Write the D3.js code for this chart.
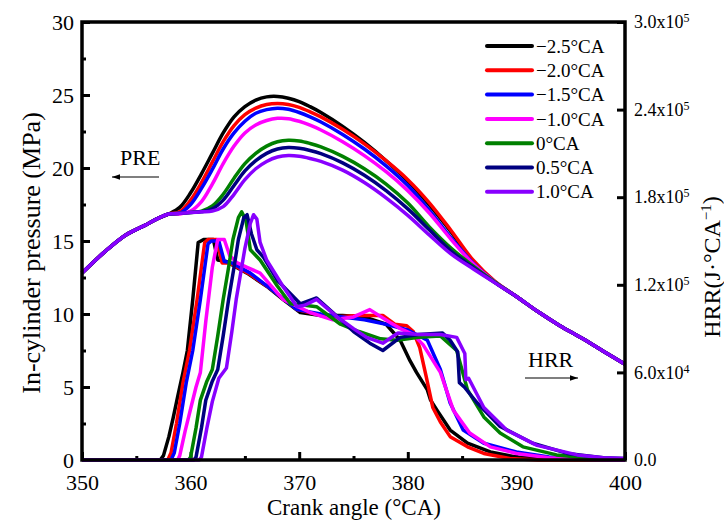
<!DOCTYPE html>
<html>
<head>
<meta charset="utf-8">
<script src="https://cdn.jsdelivr.net/npm/d3@7"></script>
<style>
  body { margin: 0; background: #fff; }
  text { font-family: "Liberation Serif", "Times New Roman", serif; fill: #000; }
</style>
</head>
<body>
<svg id="chart"></svg>
<script>
// ---- data ----
const seriesNames = ['\u22122.5\u00b0CA', '\u22122.0\u00b0CA', '\u22121.5\u00b0CA', '\u22121.0\u00b0CA', '0\u00b0CA', '0.5\u00b0CA', '1.0\u00b0CA'];
const seriesColors = ['#000000', '#ff0000', '#0000ff', '#ff00ff', '#008000', '#000080', '#8800ff'];

// crank angle grid for the pressure curves (°CA)
const angles = [350, 352, 354, 356, 357, 358, 359, 360, 361, 362, 363, 364, 365, 366, 367, 368, 369, 370,
  371, 372, 374, 376, 378, 380, 382, 384, 386, 388, 390, 392, 394, 396, 398, 400];

// in-cylinder pressure (MPa)
const preM25 = [12.8, 14.2, 15.4, 16.15, 16.55, 16.85, 17.3, 18.3, 19.6, 21.0, 22.4, 23.5, 24.2, 24.65, 24.87, 24.9, 24.78, 24.55,
  24.2, 23.8, 22.85, 21.75, 20.5, 19.1, 17.45, 15.6, 13.6, 12.2, 11.2, 10.15, 9.2, 8.35, 7.45, 6.55];
const preM20 = [12.8, 14.2, 15.4, 16.15, 16.55, 16.85, 17.0, 17.8, 19.0, 20.4, 21.8, 22.9, 23.65, 24.1, 24.35, 24.42, 24.35, 24.15,
  23.85, 23.5, 22.65, 21.65, 20.5, 19.2, 17.6, 15.7, 13.7, 12.25, 11.2, 10.15, 9.2, 8.35, 7.45, 6.55];
const preM15 = [12.8, 14.2, 15.4, 16.15, 16.55, 16.85, 16.9, 17.5, 18.6, 19.9, 21.3, 22.4, 23.2, 23.75, 24.0, 24.1, 24.02, 23.8,
  23.5, 23.15, 22.3, 21.3, 20.15, 18.8, 17.1, 15.2, 13.5, 12.2, 11.2, 10.15, 9.2, 8.35, 7.45, 6.55];
const preM10 = [12.8, 14.2, 15.4, 16.15, 16.55, 16.85, 16.85, 17.05, 17.7, 18.9, 20.3, 21.5, 22.4, 22.95, 23.25, 23.4, 23.38, 23.2,
  22.93, 22.6, 21.8, 20.85, 19.75, 18.45, 16.9, 15.1, 13.45, 12.2, 11.2, 10.15, 9.2, 8.35, 7.45, 6.55];
const pre00 = [12.8, 14.2, 15.4, 16.15, 16.55, 16.85, 16.9, 16.95, 17.05, 17.4, 18.2, 19.3, 20.3, 21.0, 21.5, 21.8, 21.9, 21.85,
  21.68, 21.45, 20.8, 19.95, 18.9, 17.6, 15.95, 14.5, 13.3, 12.2, 11.2, 10.15, 9.2, 8.35, 7.45, 6.55];
const preP05 = [12.8, 14.2, 15.4, 16.15, 16.55, 16.85, 16.9, 16.95, 17.0, 17.2, 17.8, 18.8, 19.8, 20.5, 21.0, 21.3, 21.4, 21.35,
  21.2, 20.98, 20.35, 19.5, 18.45, 17.2, 15.75, 14.3, 13.2, 12.15, 11.2, 10.15, 9.2, 8.35, 7.45, 6.55];
const preP10 = [12.8, 14.2, 15.4, 16.15, 16.55, 16.85, 16.9, 16.95, 17.0, 17.05, 17.35, 18.2, 19.2, 19.95, 20.45, 20.75, 20.85, 20.8,
  20.65, 20.45, 19.85, 19.0, 17.95, 16.75, 15.4, 14.1, 13.1, 12.15, 11.2, 10.15, 9.2, 8.35, 7.45, 6.55];

// heat release rate, [crank angle, J/°CA]
const hrrM25 = [[350, 0], [357.2, 0], [357.5, 0.3e4], [358.0, 1.6e4], [358.4, 2.9e4], [358.8, 4.3e4], [359.3, 6.0e4], [359.7, 7.5e4],
  [360.2, 11.0e4], [360.7, 14.9e4], [361.2, 15.1e4], [362.1, 15.1e4], [362.5, 13.7e4], [363.3, 13.6e4], [364.2, 13.2e4],
  [365.2, 12.8e4], [367.0, 11.9e4], [368.5, 11.0e4], [370.1, 10.1e4], [372, 9.9e4], [374, 9.9e4], [376, 9.8e4], [378, 9.3e4],
  [379.3, 8.2e4], [380.2, 6.8e4], [380.8, 6.0e4], [381.8, 4.8e4], [382.1, 4.1e4], [382.7, 3.4e4], [383.9, 2.05e4],
  [385.5, 1.15e4], [387.6, 0.55e4], [390, 0.2e4], [393, 0.05e4], [400, 0]];
const hrrM20 = [[350, 0], [357.9, 0], [358.2, 0.5e4], [358.7, 2.5e4], [359.3, 5.3e4], [359.9, 7.5e4], [360.6, 11.0e4],
  [361.3, 14.9e4], [361.6, 15.1e4], [362.4, 15.1e4], [362.9, 13.5e4], [363.6, 13.5e4], [365.5, 12.7e4], [367.6, 11.6e4],
  [369.8, 10.3e4], [371.5, 10.0e4], [373.1, 9.8e4], [375.5, 9.9e4], [377.7, 9.9e4], [378.8, 9.3e4], [379.9, 9.2e4],
  [380.5, 8.8e4], [381.1, 7.7e4], [381.7, 5.7e4], [382.3, 3.6e4], [383.0, 2.6e4], [383.9, 1.6e4], [385.5, 0.9e4],
  [387, 0.45e4], [389.4, 0.1e4], [392, 0], [400, 0]];
const hrrM15 = [[350, 0], [358.2, 0], [358.5, 0.5e4], [359.0, 2.5e4], [359.6, 5.3e4], [360.2, 7.5e4], [360.9, 11.0e4],
  [361.6, 14.8e4], [361.9, 15.0e4], [362.6, 15.0e4], [363.1, 13.6e4], [363.8, 13.5e4], [365.5, 12.8e4], [367.6, 11.6e4],
  [369.8, 10.3e4], [372, 10.0e4], [374, 9.8e4], [376, 9.6e4], [378, 9.3e4], [380, 8.9e4], [381.8, 8.2e4], [383, 6.2e4],
  [383.9, 3.9e4], [385.1, 2.05e4], [387, 1.15e4], [390, 0.55e4], [393, 0.2e4], [396, 0.05e4], [400, 0]];
const hrrM10 = [[350, 0], [358.8, 0], [359.0, 0.3e4], [359.5, 2.0e4], [360.1, 3.8e4], [360.5, 5.0e4], [360.9, 6.0e4],
  [361.4, 9.5e4], [362.0, 13.2e4], [362.5, 15.1e4], [363.1, 15.1e4], [363.6, 14.0e4], [364.3, 13.5e4], [365.2, 13.2e4],
  [366.4, 12.8e4], [368.5, 11.0e4], [371, 10.1e4], [373.1, 9.6e4], [375, 9.8e4], [376.5, 10.3e4], [378.4, 9.4e4],
  [379.3, 9.0e4], [380.5, 8.6e4], [381.4, 7.9e4], [383, 6.0e4], [384.2, 3.4e4], [385.7, 1.85e4], [387.6, 0.9e4],
  [390, 0.45e4], [393, 0.15e4], [396, 0.05e4], [400, 0]];
const hrr00 = [[350, 0], [359.8, 0], [360.0, 0.2e4], [360.5, 2.2e4], [360.9, 4.1e4], [361.5, 5.4e4], [362, 6.2e4],
  [362.5, 8.5e4], [363, 11.0e4], [363.5, 13.2e4], [363.9, 15.1e4], [364.4, 16.6e4], [364.7, 17.0e4], [365.1, 16.4e4],
  [365.5, 14.4e4], [366.4, 13.7e4], [368, 11.9e4], [369.2, 10.7e4], [370.5, 10.6e4], [371.6, 10.5e4], [373.8, 9.3e4],
  [375.5, 8.8e4], [377.5, 8.3e4], [379, 8.2e4], [381, 8.4e4], [383, 8.5e4], [384.5, 7.5e4], [385.5, 4.8e4], [387, 2.95e4],
  [388.5, 1.85e4], [390.6, 0.9e4], [393.7, 0.35e4], [397, 0.1e4], [400, 0.05e4]];
const hrrP05 = [[350, 0], [360.3, 0], [360.5, 0.2e4], [361, 2.2e4], [361.4, 4.1e4], [362, 5.4e4], [362.5, 6.2e4],
  [363, 8.5e4], [363.5, 11.0e4], [364, 13.2e4], [364.4, 15.1e4], [364.9, 16.6e4], [365.2, 16.8e4], [365.6, 15.5e4],
  [366.1, 14.4e4], [366.7, 13.9e4], [368, 12.3e4], [370.1, 10.7e4], [371.6, 11.1e4], [373.1, 10.1e4], [375, 8.8e4],
  [376.5, 8.0e4], [377.7, 7.5e4], [379.3, 8.4e4], [381, 8.6e4], [383.2, 8.7e4], [383.9, 8.2e4], [384.6, 7.4e4],
  [384.75, 5.3e4], [385.2, 5.0e4], [386.4, 3.9e4], [388.5, 2.3e4], [391.5, 1.15e4], [394.7, 0.45e4], [398, 0.15e4], [400, 0.1e4]];
const hrrP10 = [[350, 0], [360.8, 0], [361.0, 0.2e4], [361.5, 2.2e4], [362, 4.0e4], [362.6, 5.6e4], [363.3, 6.3e4],
  [363.8, 8.8e4], [364.2, 11.0e4], [365.0, 14.5e4], [365.5, 16.2e4], [365.8, 16.8e4], [366.1, 16.5e4], [366.4, 14.9e4],
  [367, 13.7e4], [368.5, 11.9e4], [369.8, 10.5e4], [370.5, 10.6e4], [371.6, 11.0e4], [373.5, 9.8e4], [375, 9.0e4],
  [376.2, 8.4e4], [377.7, 8.0e4], [379.1, 8.7e4], [381, 8.6e4], [383, 8.6e4], [384.5, 8.4e4], [385.25, 7.3e4],
  [385.35, 5.5e4], [385.6, 5.6e4], [387, 3.6e4], [389.1, 2.05e4], [391.9, 1.0e4], [395.6, 0.35e4], [398, 0.15e4], [400, 0.1e4]];

const pressureSeries = [preM25, preM20, preM15, preM10, pre00, preP05, preP10];
const hrrSeries = [hrrM25, hrrM20, hrrM15, hrrM10, hrr00, hrrP05, hrrP10];

const xTicks = [350, 360, 370, 380, 390, 400];
const yTicks = [0, 5, 10, 15, 20, 25, 30];
const yRightTicks = [0, 6e4, 12e4, 18e4, 24e4, 30e4];

// ---- layout ----
const config = {
  containerWidth: 724,
  containerHeight: 522,
  margin: {top: 22, right: 99, bottom: 62, left: 82}
};
const width = config.containerWidth - config.margin.left - config.margin.right;
const height = config.containerHeight - config.margin.top - config.margin.bottom;

const svg = d3.select('#chart')
    .attr('width', config.containerWidth)
    .attr('height', config.containerHeight);

const chart = svg.append('g')
    .attr('transform', `translate(${config.margin.left},${config.margin.top})`);

// scales
const xScale = d3.scaleLinear().domain([350, 400]).range([0, width]);
const yScale = d3.scaleLinear().domain([0, 30]).range([height, 0]);
const yRightScale = d3.scaleLinear().domain([0, 3e5]).range([height, 0]);

// minor ticks
chart.append('g')
    .attr('class', 'axis minor')
    .attr('transform', `translate(0,${height})`)
    .call(d3.axisBottom(xScale).tickValues(d3.range(355, 400, 10)).tickSizeInner(-4).tickSizeOuter(0).tickFormat(''));
chart.append('g')
    .attr('class', 'axis minor')
    .call(d3.axisLeft(yScale).tickValues(d3.range(2.5, 30, 5)).tickSizeInner(-4).tickSizeOuter(0).tickFormat(''));

// major axes
const xAxisG = chart.append('g')
    .attr('class', 'axis x-axis')
    .attr('transform', `translate(0,${height})`)
    .call(d3.axisBottom(xScale).tickValues(xTicks).tickSizeInner(-8).tickSizeOuter(0).tickPadding(14));

const yAxisG = chart.append('g')
    .attr('class', 'axis y-axis')
    .call(d3.axisLeft(yScale).tickValues(yTicks).tickSizeInner(-8).tickSizeOuter(0).tickPadding(8));

const yRightAxisG = chart.append('g')
    .attr('class', 'axis y-right-axis')
    .attr('transform', `translate(${width},0)`)
    .call(d3.axisRight(yRightScale).tickValues(yRightTicks).tickSizeInner(-8).tickSizeOuter(0).tickPadding(9));

chart.selectAll('.axis .domain').remove();
chart.selectAll('.axis .tick line').attr('stroke', '#000').attr('stroke-width', 3);
xAxisG.selectAll('.tick text').attr('font-size', 22).attr('font-family', 'Liberation Serif');
yAxisG.selectAll('.tick text').attr('font-size', 22).attr('font-family', 'Liberation Serif');

// right labels like 2.4x10^5
yRightAxisG.selectAll('.tick text').each(function(d) {
  const t = d3.select(this).text('').attr('font-size', 18).attr('font-family', 'Liberation Serif');
  if (d === 0) { t.text('0.0'); return; }
  const exp = Math.floor(Math.log10(d));
  const mant = d / Math.pow(10, exp);
  t.append('tspan').text(`${mant.toFixed(1)}x10`);
  t.append('tspan').attr('font-size', 12).attr('dy', '-0.5em').text(exp);
});

// lines
const pressureLine = d3.line()
    .x((d, i) => xScale(angles[i]))
    .y(d => yScale(d))
    .curve(d3.curveCatmullRom);

const hrrLine = d3.line()
    .x(d => xScale(d[0]))
    .y(d => yRightScale(d[1]));

chart.selectAll('.hrr-line')
    .data(hrrSeries)
    .join('path')
    .attr('class', 'hrr-line')
    .attr('fill', 'none')
    .attr('stroke', (d, i) => seriesColors[i])
    .attr('stroke-width', 3.5)
    .attr('stroke-linejoin', 'round')
    .attr('d', hrrLine);

chart.selectAll('.pre-line')
    .data(pressureSeries)
    .join('path')
    .attr('class', 'pre-line')
    .attr('fill', 'none')
    .attr('stroke', (d, i) => seriesColors[i])
    .attr('stroke-width', 3.5)
    .attr('stroke-linejoin', 'round')
    .attr('d', pressureLine);

// frame
chart.append('rect')
    .attr('width', width)
    .attr('height', height)
    .attr('fill', 'none')
    .attr('stroke', '#000')
    .attr('stroke-width', 3.5);

// legend
const legend = svg.append('g')
    .attr('transform', 'translate(487,46)');
const legendItems = legend.selectAll('.legend-item')
    .data(seriesNames)
    .join('g')
    .attr('class', 'legend-item')
    .attr('transform', (d, i) => `translate(0,${i * 24.3})`);
legendItems.append('line')
    .attr('x1', 0).attr('x2', 45)
    .attr('stroke', (d, i) => seriesColors[i])
    .attr('stroke-width', 4)
    .attr('stroke-linecap', 'round');
legendItems.append('text')
    .attr('x', 49)
    .attr('dy', '0.35em')
    .attr('font-size', 19)
    .text(d => d);

// annotations with arrows
const defs = svg.append('defs');
defs.append('marker')
    .attr('id', 'arrow')
    .attr('viewBox', '0 0 10 10')
    .attr('refX', 10).attr('refY', 5)
    .attr('markerWidth', 8).attr('markerHeight', 8)
    .attr('markerUnits', 'userSpaceOnUse')
    .attr('orient', 'auto')
  .append('path')
    .attr('d', 'M0,1.5L10,5L0,8.5Z')
    .attr('fill', '#000');

svg.append('text').attr('x', 120).attr('y', 165).attr('font-size', 22).text('PRE');
svg.append('line').attr('x1', 159).attr('x2', 112).attr('y1', 177).attr('y2', 177)
    .attr('stroke', '#000').attr('stroke-width', 1.2).attr('marker-end', 'url(#arrow)');

svg.append('text').attr('x', 528).attr('y', 367).attr('font-size', 22).text('HRR');
svg.append('line').attr('x1', 525).attr('x2', 578).attr('y1', 378).attr('y2', 378)
    .attr('stroke', '#000').attr('stroke-width', 1.2).attr('marker-end', 'url(#arrow)');

// axis titles
svg.append('text')
    .attr('class', 'axis-title')
    .attr('transform', 'translate(40,253) rotate(-90)')
    .attr('text-anchor', 'middle')
    .attr('font-size', 26)
    .text('In-cylinder pressure (MPa)');

svg.append('text')
    .attr('class', 'axis-title')
    .attr('x', 354)
    .attr('y', 515)
    .attr('text-anchor', 'middle')
    .attr('font-size', 23)
    .text('Crank angle (\u00b0CA)');

const rTitle = svg.append('text')
    .attr('class', 'axis-title')
    .attr('transform', 'translate(720,267) rotate(-90)')
    .attr('text-anchor', 'middle')
    .attr('font-size', 24);
rTitle.append('tspan').text('HRR(J\u00b7\u00b0CA');
rTitle.append('tspan').attr('font-size', 15).attr('dy', '-0.6em').text('\u22121');
rTitle.append('tspan').attr('dy', '0.35em').text(')');
</script>
</body>
</html>
